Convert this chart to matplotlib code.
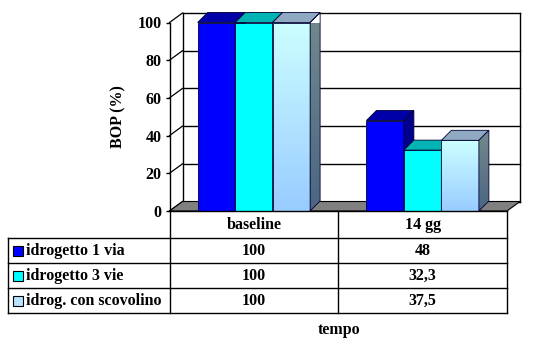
import numpy as np
import matplotlib
matplotlib.use("Agg")
import matplotlib.pyplot as plt
from matplotlib.patches import Polygon, Rectangle
from matplotlib.colors import LinearSegmentedColormap

# ---- data ----
categories = ["baseline", "14 gg"]
series_names = ["idrogetto 1 via", "idrogetto 3 vie", "idrog. con scovolino"]
values_1via = [100, 48]
values_3vie = [100, 32.3]
values_scov = [100, 37.5]
value_labels = [["100", "48"], ["100", "32,3"], ["100", "37,5"]]
yticks = [0, 20, 40, 60, 80, 100]
ylabel = "BOP (%)"
xlabel = "tempo"

series_values = [values_1via, values_3vie, values_scov]

# face colours per series: front (solid or gradient), top, side
front_solid = ["#0000FF", "#00FFFF", None]
front_grad = [None, None, ("#CCFFFF", "#99CCFF")]
top_cols = ["#0000A8", "#00B4B4", "#8FA9C2"]
side_cols = ["#00008C", "#008C8C", None]
side_grad = [None, None, ("#738A8C", "#4B6583")]
key_cols = ["#0000FF", "#00FFFF", "#B8E4FF"]

FONT = dict(family="Liberation Serif", weight="bold", size=11.5)

W, H = 543, 350
fig = plt.figure(figsize=(W / 100, H / 100), dpi=100)
fig.patch.set_facecolor("white")

# front plane of the chart (pixel layout)
fx0, fx1, fy0, fy100 = 169.5, 507.0, 211.0, 22.5
ax = fig.add_axes([fx0 / W, (H - fy0) / H, (fx1 - fx0) / W, (fy0 - fy100) / H])
ax.set_xlim(-0.5, len(categories) - 0.5)
ax.set_ylim(0, 100)
ax.patch.set_alpha(0)
for s in ["top", "right", "bottom"]:
    ax.spines[s].set_visible(False)
ax.spines["left"].set_linewidth(1.0)
ax.set_xticks([])
ax.set_yticks(yticks)
ax.set_yticklabels([str(v) for v in yticks], **FONT)
ax.tick_params(axis="y", length=3.2, width=1.0, pad=2.5, direction="out")
ax.set_ylabel(ylabel, **FONT)
ax.yaxis.set_label_coords(-0.127, 0.5)

# pixel -> data conversion for the depth offsets
px_x = (fx1 - fx0) / (len(categories))
px_y = (fy0 - fy100) / 100.0
wall_dx, wall_dy = 13 / px_x, 9.5 / px_y
bar_dx, bar_dy = 10 / px_x, 10 / px_y

xl0, xl1 = -0.5, len(categories) - 0.5

# back wall gridlines and edges
for v in yticks:
    ax.plot([xl0 + wall_dx, xl1 + wall_dx], [v + wall_dy] * 2, color="black",
            lw=1.0, zorder=1, clip_on=False)
    ax.plot([xl0, xl0 + wall_dx], [v, v + wall_dy], color="black",
            lw=0.9, zorder=1, clip_on=False)
for xe in (xl0 + wall_dx, xl1 + wall_dx):
    ax.plot([xe, xe], [wall_dy, 100 + wall_dy], color="black", lw=1.0,
            zorder=1, clip_on=False)

# floor
floor = Polygon([(xl0, 0), (xl1, 0), (xl1 + wall_dx, wall_dy), (xl0 + wall_dx, wall_dy)],
                closed=True, facecolor="#808080", edgecolor="black", lw=0.8,
                zorder=1.5, clip_on=False)
ax.add_patch(floor)


def grad_fill(patch, c_top, c_bot, ext, z):
    cmap = LinearSegmentedColormap.from_list("g", [c_bot, c_top])
    grad = np.linspace(0, 1, 256).reshape(-1, 1)
    im = ax.imshow(grad, cmap=cmap, origin="lower", extent=ext, aspect="auto",
                   zorder=z, interpolation="bilinear")
    im.set_clip_path(patch)
    im.set_clip_on(True)


bw = 37.5 / px_x
nser = len(series_values)
z = 3
for ci in range(len(categories)):
    for si in range(nser):
        h = series_values[si][ci]
        x0 = ci + (si - nser / 2) * bw
        x1 = x0 + bw
        # front face
        if front_solid[si] is not None:
            ax.bar(x0, h, width=bw, align="edge", color=front_solid[si],
                   edgecolor="#000033", linewidth=0.6, zorder=z)
        else:
            rect = Rectangle((x0, 0), bw, h, facecolor="none", edgecolor="#000033",
                             lw=0.6, zorder=z + 0.2)
            ax.add_patch(rect)
            clip = Rectangle((x0, 0), bw, h, transform=ax.transData, visible=False)
            ax.add_patch(clip)
            grad_fill(clip, front_grad[si][0], front_grad[si][1], [x0, x1, 0, h], z + 0.1)
        # top face
        top = Polygon([(x0, h), (x1, h), (x1 + bar_dx, h + bar_dy), (x0 + bar_dx, h + bar_dy)],
                      closed=True, facecolor=top_cols[si], edgecolor="#000033", lw=0.6,
                      zorder=z + 0.3, clip_on=False)
        ax.add_patch(top)
        # side face
        side_pts = [(x1, 0), (x1 + bar_dx, bar_dy), (x1 + bar_dx, h + bar_dy), (x1, h)]
        if side_cols[si] is not None:
            side = Polygon(side_pts, closed=True, facecolor=side_cols[si],
                           edgecolor="#000033", lw=0.6, zorder=z + 0.3, clip_on=False)
            ax.add_patch(side)
        else:
            side = Polygon(side_pts, closed=True, facecolor="none",
                           edgecolor="#000033", lw=0.6, zorder=z + 0.4, clip_on=False)
            ax.add_patch(side)
            sclip = Polygon(side_pts, closed=True, transform=ax.transData, visible=False)
            ax.add_patch(sclip)
            grad_fill(sclip, side_grad[si][0], side_grad[si][1],
                      [x1, x1 + bar_dx, 0, h + bar_dy], z + 0.35)
        z += 1

ax.set_xlim(xl0, xl1)
ax.set_ylim(0, 100)

# ---- data table (pixel coordinates overlay) ----
tb = fig.add_axes([0, 0, 1, 1])
tb.set_xlim(0, W)
tb.set_ylim(H, 0)
tb.axis("off")
tb.patch.set_alpha(0)

col_x = [8.0, fx0, 338.3, fx1]
row_y = [fy0, 238.3, 263.3, 288.3, 313.3]
lw = 1.0
# header row (category names)
tb.plot([col_x[1], col_x[3]], [row_y[0]] * 2, color="black", lw=lw)
for y in row_y[1:]:
    tb.plot([col_x[0], col_x[3]], [y, y], color="black", lw=lw)
tb.plot([col_x[0], col_x[0]], [row_y[1], row_y[-1]], color="black", lw=lw)
for x in col_x[1:]:
    tb.plot([x, x], [row_y[0], row_y[-1]], color="black", lw=lw)

for ci, cat in enumerate(categories):
    cx = (col_x[ci + 1] + col_x[ci + 2]) / 2
    tb.text(cx, (row_y[0] + row_y[1]) / 2, cat, ha="center", va="center", **FONT)
    for si in range(nser):
        cy = (row_y[si + 1] + row_y[si + 2]) / 2
        tb.text(cx, cy, value_labels[si][ci], ha="center", va="center", **FONT)

for si, name in enumerate(series_names):
    cy = (row_y[si + 1] + row_y[si + 2]) / 2
    tb.add_patch(Rectangle((12.5, cy - 5), 10, 10, facecolor=key_cols[si],
                           edgecolor="black", lw=0.8))
    tb.text(25.5, cy, name, ha="left", va="center", **FONT)

tb.text(339, 330, xlabel, ha="center", va="center", **FONT)

fig.savefig("out.png", dpi=100, facecolor="white")
